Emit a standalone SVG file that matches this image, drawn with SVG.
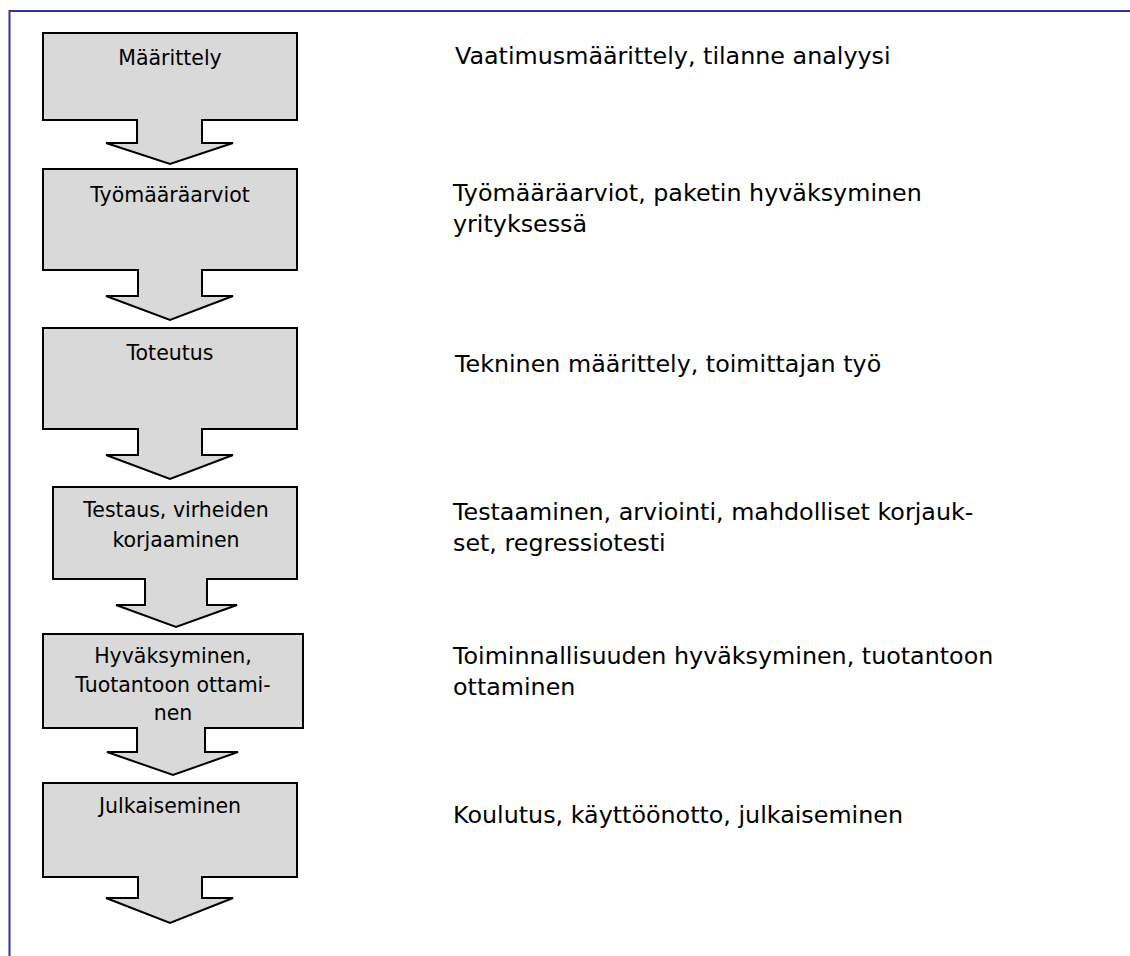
<svg xmlns="http://www.w3.org/2000/svg" width="1130" height="956" viewBox="0 0 1130 956">
<style>
.frame{fill:none;stroke:#333399;stroke-width:2}
.callout{fill:#d9d9d9;stroke:#000;stroke-width:2;stroke-linejoin:miter}
.lbl{font-family:"DejaVu Sans",Verdana,sans-serif;font-size:20.5px;fill:#000;text-anchor:middle}
.desc{font-family:"DejaVu Sans",Verdana,sans-serif;font-size:23.8px;fill:#000}
</style>
<rect width="1130" height="956" fill="#fff"/>
<path class="frame" d="M9.5,956 V11 H1130"/>
<g id="connectors"></g>
<g id="node-maarittely">
<path class="callout" d="M43,33 H297 V120 H202 V143 H233 L170,164 L106,143 H137 V120 H43 Z"/>
<text class="lbl" x="170" y="65">Määrittely</text>
</g>
<g id="node-tyomaaraarviot">
<path class="callout" d="M43,169 H297 V270 H202 V296 H233 L170,320 L106,296 H138 V270 H43 Z"/>
<text class="lbl" x="170" y="202">Työmääräarviot</text>
</g>
<g id="node-toteutus">
<path class="callout" d="M43,328 H297 V429 H202 V455 H233 L170,479 L106,455 H138 V429 H43 Z"/>
<text class="lbl" x="170" y="360">Toteutus</text>
</g>
<g id="node-testaus">
<path class="callout" d="M53,487 H297 V579 H207 V605 H237 L176,627 L116,605 H145 V579 H53 Z"/>
<text class="lbl" x="176" y="517">Testaus, virheiden</text>
<text class="lbl" x="176" y="547">korjaaminen</text>
</g>
<g id="node-hyvaksyminen">
<path class="callout" d="M43,634 H303 V728 H205 V752 H238 L173,775 L107,752 H137 V728 H43 Z"/>
<text class="lbl" x="173" y="663">Hyväksyminen,</text>
<text class="lbl" x="173" y="692">Tuotantoon ottami-</text>
<text class="lbl" x="173" y="720">nen</text>
</g>
<g id="node-julkaiseminen">
<path class="callout" d="M43,783 H297 V877 H202 V898 H233 L170,923 L106,898 H138 V877 H43 Z"/>
<text class="lbl" x="170" y="813">Julkaiseminen</text>
</g>
<g id="desc-1"><text class="desc" x="455" y="64">Vaatimusmäärittely, tilanne analyysi</text></g>
<g id="desc-2"><text class="desc" x="453" y="201">Työmääräarviot, paketin hyväksyminen</text><text class="desc" x="453" y="232">yrityksessä</text></g>
<g id="desc-3"><text class="desc" x="455" y="372">Tekninen määrittely, toimittajan työ</text></g>
<g id="desc-4"><text class="desc" x="453" y="520">Testaaminen, arviointi, mahdolliset korjauk-</text><text class="desc" x="453" y="551">set, regressiotesti</text></g>
<g id="desc-5"><text class="desc" x="453" y="664">Toiminnallisuuden hyväksyminen, tuotantoon</text><text class="desc" x="453" y="695">ottaminen</text></g>
<g id="desc-6"><text class="desc" x="453" y="823">Koulutus, käyttöönotto, julkaiseminen</text></g>
</svg>
